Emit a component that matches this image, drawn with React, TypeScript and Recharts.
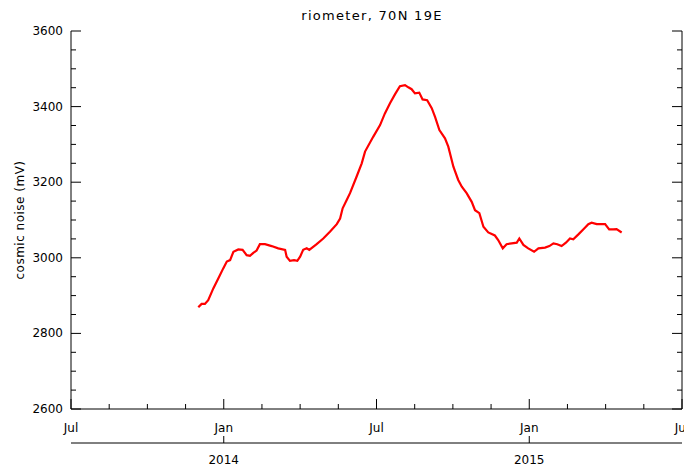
import React from 'react';
import { LineChart, Line, XAxis, YAxis } from 'recharts';

// months since 1 Jul 2013
const months = [
  5.0, 5.13, 5.26, 5.39, 5.59, 5.79, 5.98, 6.12, 6.25, 6.38, 6.57, 6.74, 6.9, 7.03, 7.16, 7.29,
  7.42, 7.62, 7.88, 8.14, 8.41, 8.47, 8.6, 8.76, 8.89, 9.0, 9.12, 9.26, 9.36, 9.65, 9.91, 10.17,
  10.44, 10.57, 10.67, 10.83, 10.96, 11.22, 11.42, 11.55, 11.87, 12.14, 12.33, 12.53, 12.73,
  12.92, 13.12, 13.25, 13.38, 13.51, 13.68, 13.81, 13.99, 14.17, 14.3, 14.47, 14.69, 14.82,
  15.02, 15.21, 15.35, 15.54, 15.74, 15.87, 16.04, 16.2, 16.39, 16.65, 16.78, 16.96, 17.11,
  17.31, 17.51, 17.61, 17.77, 17.96, 18.19, 18.36, 18.62, 18.79, 18.95, 19.1, 19.27, 19.44,
  19.6, 19.73, 19.93, 20.12, 20.32, 20.45, 20.65, 20.98, 21.14, 21.3, 21.43, 21.63,
];

// cosmic noise (mV)
const noise = [
  2869, 2878, 2878, 2888, 2919, 2946, 2972, 2990, 2994, 3016, 3022, 3021, 3007, 3005, 3013, 3019,
  3036, 3036, 3031, 3025, 3021, 3003, 2992, 2994, 2992, 3003, 3021, 3025, 3021, 3036, 3051, 3069,
  3089, 3104, 3131, 3153, 3171, 3215, 3250, 3281, 3320, 3351, 3382, 3409, 3433,
  3454, 3457, 3451, 3446, 3435, 3437, 3419, 3417, 3396, 3373, 3338, 3316, 3294,
  3241, 3206, 3188, 3171, 3148, 3126, 3118, 3082, 3067, 3059, 3047, 3025, 3036,
  3038, 3040, 3051, 3034, 3025, 3016, 3025, 3027, 3031, 3038, 3036, 3031, 3040,
  3051, 3049, 3062, 3075, 3089, 3093, 3089, 3089, 3075, 3075, 3076, 3067,
];

const monthTicks = [0, 1.5, 3, 4.5, 6, 7.5, 9, 10.5, 12, 13.5, 15, 16.5, 18, 19.5, 21, 22.5, 24];
const monthLabels: Record<number, string> = { 0: 'Jul', 6: 'Jan', 12: 'Jul', 18: 'Jan', 24: 'Jul' };
const yearTicks = [6, 18];
const yearLabels: Record<number, string> = { 6: '2014', 18: '2015' };
const yTicks = [
  2600, 2650, 2700, 2750, 2800, 2850, 2900, 2950, 3000, 3050, 3100, 3150, 3200, 3250, 3300,
  3350, 3400, 3450, 3500, 3550, 3600,
];

const data = months.map((m, i) => ({ m, v: noise[i] }));

const FONT = "'DejaVu Sans', sans-serif";
const textStyle = { fontFamily: FONT, fontSize: 12, fill: '#000' };

const BottomTick = (props: any) => {
  const { x, y, payload } = props;
  const label = monthLabels[payload.value];
  const len = label ? 10 : 5;
  return (
    <g>
      <line x1={x} x2={x} y1={y} y2={y - len} stroke="#000" />
      {label && (
        <text x={x} y={y + 23} textAnchor="middle" style={textStyle}>
          {label}
        </text>
      )}
    </g>
  );
};

const TopTick = (props: any) => {
  const { x, y, payload } = props;
  const len = monthLabels[payload.value] ? 10 : 5;
  return <line x1={x} x2={x} y1={y} y2={y + len} stroke="#000" />;
};

const YearTick = (props: any) => {
  const { x, y, payload } = props;
  return (
    <g>
      <line x1={x} x2={x} y1={y} y2={y - 7} stroke="#000" />
      <text x={x} y={y + 21} textAnchor="middle" style={textStyle}>
        {yearLabels[payload.value]}
      </text>
    </g>
  );
};

const LeftTick = (props: any) => {
  const { x, y, payload } = props;
  const major = payload.value % 200 === 0;
  return (
    <g>
      <line x1={x} x2={x + (major ? 10 : 5)} y1={y} y2={y} stroke="#000" />
      {major && (
        <text x={x - 8} y={y + 4} textAnchor="end" style={textStyle}>
          {payload.value}
        </text>
      )}
    </g>
  );
};

const RightTick = (props: any) => {
  const { x, y, payload } = props;
  const len = payload.value % 200 === 0 ? 10 : 5;
  return <line x1={x} x2={x - len} y1={y} y2={y} stroke="#000" />;
};

export default function App() {
  return (
    <div style={{ position: 'absolute', left: 0, top: 0, width: 684, height: 467, background: '#fff' }}>
      <LineChart width={684} height={467} data={data} margin={{ top: 31, right: 0, bottom: 0, left: 0 }}>
        <text x={372} y={20} textAnchor="middle" style={{ ...textStyle, fontSize: 13, letterSpacing: 1.3 }}>
          riometer, 70N 19E
        </text>
        <text
          x={24}
          y={220}
          textAnchor="middle"
          transform="rotate(-90 24 220)"
          style={{ ...textStyle, letterSpacing: 0.5 }}
        >
          cosmic noise (mV)
        </text>
        <XAxis
          dataKey="m"
          type="number"
          domain={[0, 24]}
          ticks={monthTicks}
          interval={0}
          height={34}
          tickSize={0}
          tickMargin={0}
          tickLine={false}
          axisLine={{ stroke: '#000' }}
          tick={<BottomTick />}
        />
        <XAxis
          xAxisId="year"
          dataKey="m"
          type="number"
          domain={[0, 24]}
          ticks={yearTicks}
          interval={0}
          height={24}
          tickSize={0}
          tickMargin={0}
          tickLine={false}
          axisLine={{ stroke: '#000' }}
          tick={<YearTick />}
        />
        <XAxis
          xAxisId="top"
          orientation="top"
          dataKey="m"
          type="number"
          domain={[0, 24]}
          ticks={monthTicks}
          interval={0}
          height={0}
          tickSize={0}
          tickMargin={0}
          tickLine={false}
          axisLine={{ stroke: '#000' }}
          tick={<TopTick />}
        />
        <YAxis
          type="number"
          domain={[2600, 3600]}
          ticks={yTicks}
          interval={0}
          width={71}
          tickSize={0}
          tickMargin={0}
          tickLine={false}
          axisLine={{ stroke: '#000' }}
          tick={<LeftTick />}
          allowDataOverflow
        />
        <YAxis
          yAxisId="right"
          orientation="right"
          type="number"
          domain={[2600, 3600]}
          ticks={yTicks}
          interval={0}
          width={2}
          tickSize={0}
          tickMargin={0}
          tickLine={false}
          axisLine={{ stroke: '#000' }}
          tick={<RightTick />}
          allowDataOverflow
        />
        <Line
          dataKey="v"
          type="linear"
          stroke="#ff0000"
          strokeWidth={2.2}
          dot={false}
          isAnimationActive={false}
        />
      </LineChart>
    </div>
  );
}
